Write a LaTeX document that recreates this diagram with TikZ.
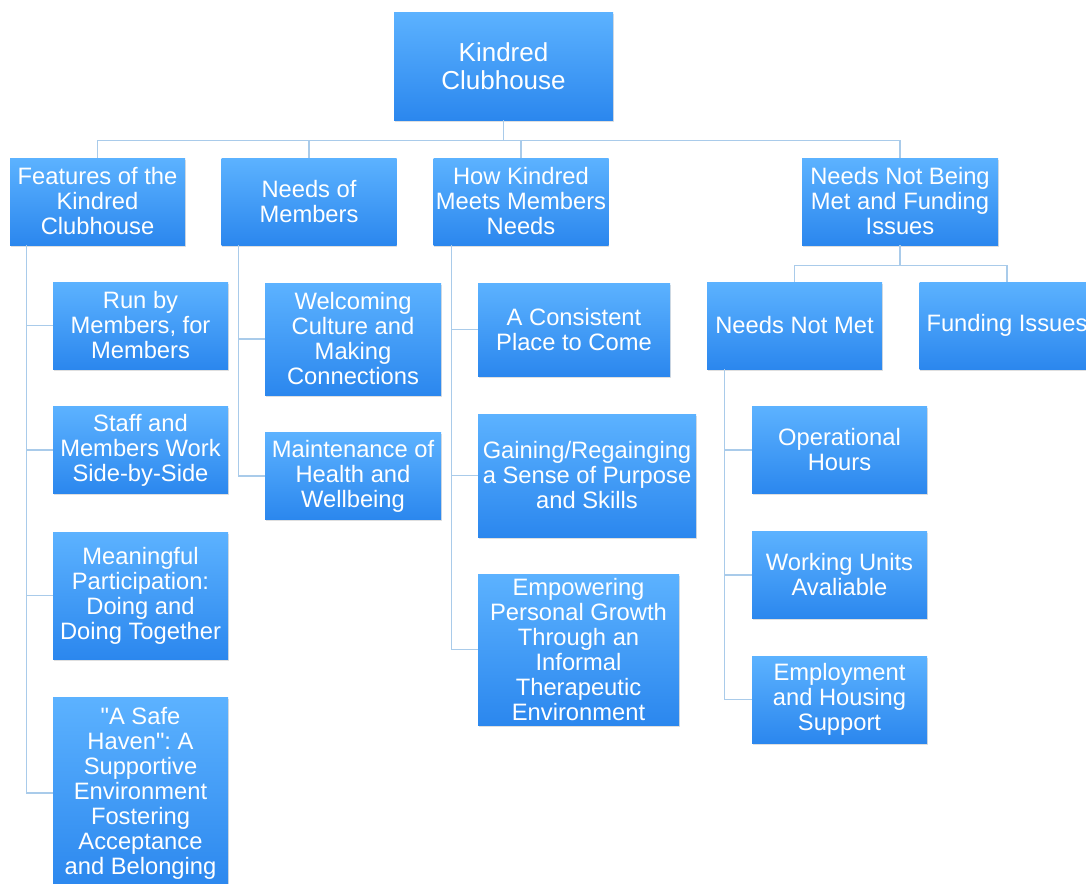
\documentclass[tikz,border=0pt]{standalone}
\usepackage{fontspec}
\setmainfont{Liberation Sans}[Ligatures=TeXOff]
\usepackage{tikz}
\usetikzlibrary{positioning,calc,shadows}
\frenchspacing

\definecolor{boxtop}{HTML}{5CB2FF}
\definecolor{boxbot}{HTML}{2B87EE}
\definecolor{linkblue}{HTML}{A9CBEA}

\tikzset{
  kbox/.style={rectangle, top color=boxtop, bottom color=boxbot, text=white, align=center,
    inner sep=1pt, font=\fontsize{17.8}{18.75}\selectfont,
    minimum width=131.25pt, minimum height=65.25pt,
    drop shadow={opacity=0.25, shadow xshift=0.4pt, shadow yshift=-1.2pt}},
  link/.style={draw=linkblue, line width=1.1pt}
}

\begin{document}
\begin{tikzpicture}[x=0.75pt, y=-0.75pt]
    \fill[white] (0,0) rectangle (1086,883);
    \useasboundingbox (0,0) rectangle (1086,883);

    % top
    \node[kbox, minimum width=164.25pt, minimum height=81pt, font=\fontsize{19.5}{21}\selectfont] (root) at (503.5,66) {Kindred\\Clubhouse};

    % first level
    \node[kbox] (feat) at (97.5,201.5) {Features of the\\Kindred\\Clubhouse};
    \node[kbox] (needs) at (309,201.5) {Needs of\\Members};
    \node[kbox] (how) at (521,201.5) {How Kindred\\Meets Members\\Needs};
    \node[kbox, minimum width=147pt] (unmet) at (900,201.5) {Needs Not Being\\Met and Funding\\Issues};

    % features
    \node[kbox] (run) at (140.5,325.5) {Run by\\Members, for\\Members};
    \node[kbox] (staff) at (140.5,450) {Staff and\\Members Work\\Side-by-Side};
    \node[kbox, minimum height=95.25pt] (mean) at (140.5,595.5) {Meaningful\\Participation:\\Doing and\\Doing Together};
    \node[kbox, minimum height=144pt] (haven) at (140.5,793) {"A Safe\\Haven": A\\Supportive\\Environment\\Fostering\\Acceptance\\and Belonging};

    % needs of members
    \node[kbox, minimum width=132pt, minimum height=84pt] (welc) at (353,339) {Welcoming\\Culture and\\Making\\Connections};
    \node[kbox, minimum width=132pt] (maint) at (353,476) {Maintenance of\\Health and\\Wellbeing};

    % how kindred meets needs
    \node[kbox, minimum width=144pt, minimum height=69.75pt] (place) at (574,329.5) {A Consistent\\Place to Come};
    \node[kbox, minimum width=163.5pt, minimum height=92.25pt] (gain) at (587,475.5) {Gaining/Regainging\\a Sense of Purpose\\and Skills};
    \node[kbox, minimum width=150.75pt, minimum height=113.25pt] (empow) at (578.5,649.5) {Empowering\\Personal Growth\\Through an\\Informal\\Therapeutic\\Environment};

    % needs not met / funding
    \node[kbox] (notmet) at (794.5,325.5) {Needs Not Met};
    \node[kbox] (fund) at (1007,325.5) {Funding Issues};
    \node[kbox] (hours) at (839.5,450) {Operational\\Hours};
    \node[kbox] (units) at (839.5,575) {Working Units\\Avaliable};
    \node[kbox] (employ) at (839.5,699.5) {Employment\\and Housing\\Support};

    % connectors
    \foreach \n in {feat,needs,how,unmet}
        \draw[link] (root.south) -- ++(0,20) -| (\n.north);
    \foreach \n in {notmet,fund}
        \draw[link] (unmet.south) -- ++(0,20) -| (\n.north);
    \foreach \n in {run,staff,mean,haven}
        \draw[link] ([xshift=12.75pt]feat.south west) |- (\n.west);
    \foreach \n in {welc,maint}
        \draw[link] ([xshift=12.75pt]needs.south west) |- (\n.west);
    \foreach \n in {place,gain,empow}
        \draw[link] ([xshift=13.5pt]how.south west) |- (\n.west);
    \foreach \n in {hours,units,employ}
        \draw[link] ([xshift=13.5pt]notmet.south west) |- (\n.west);
\end{tikzpicture}
\end{document}
